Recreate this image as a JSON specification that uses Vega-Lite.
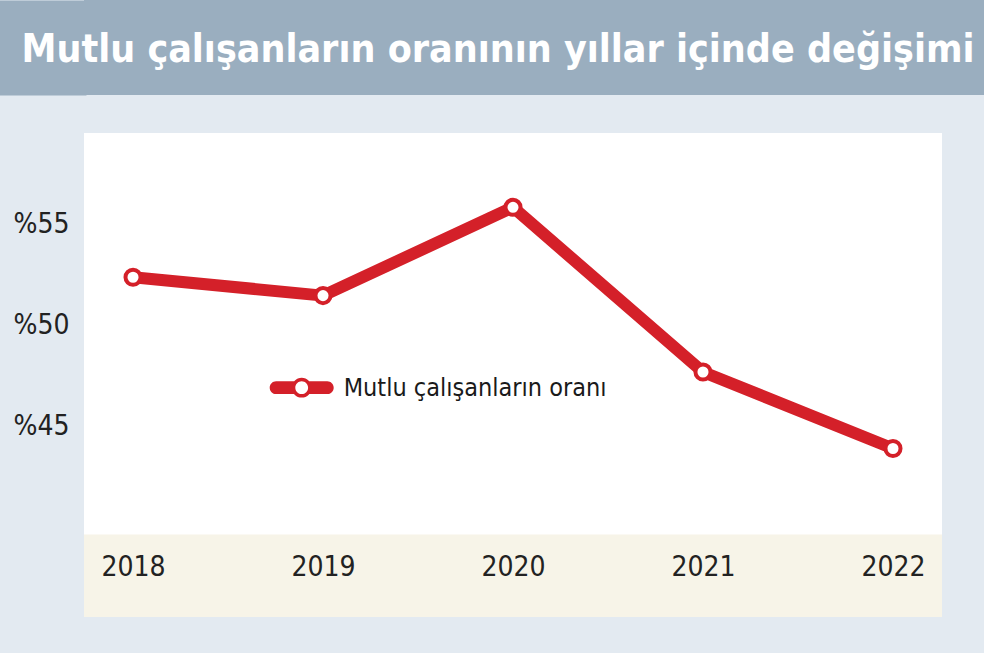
{
  "$schema": "https://vega.github.io/schema/vega-lite/v6.json",
  "background": "#e3eaf1",
  "padding": {"left": 0, "top": 0, "right": 0, "bottom": 36},
  "spacing": 38,
  "config": {"view": {"stroke": null}, "font": "DejaVu Sans Condensed"},
  "vconcat": [
    {
      "width": 900,
      "height": 95,
      "view": {"fill": "#9aaebf", "stroke": null},
      "data": {"values": [{"title": "Mutlu çalışanların oranının yıllar içinde değişimi", "pos": 0.5}]},
      "mark": {"type": "text", "font": "DejaVu Sans Condensed", "fontWeight": "bold", "fontSize": 39, "color": "#ffffff", "align": "center", "baseline": "alphabetic", "dy": 14.5, "dx": -36},
      "encoding": {
        "text": {"field": "title"},
        "y": {"field": "pos", "type": "quantitative", "scale": {"domain": [0, 1]},
          "axis": {"title": null, "labels": false, "ticks": false, "grid": false, "domain": true, "domainColor": "#9aaebf", "domainWidth": 88, "domainCap": "butt", "offset": 42, "minExtent": 42, "maxExtent": 42}}
      }
    },
    {
      "width": 858,
      "height": 484,
      "view": {"fill": "#ffffff", "stroke": null},
      "data": {"values": [
        {"year": "2018", "value": 52.38, "series": "Mutlu çalışanların oranı"},
        {"year": "2019", "value": 51.47, "series": "Mutlu çalışanların oranı"},
        {"year": "2020", "value": 55.84, "series": "Mutlu çalışanların oranı"},
        {"year": "2021", "value": 47.69, "series": "Mutlu çalışanların oranı"},
        {"year": "2022", "value": 43.9, "series": "Mutlu çalışanların oranı"}
      ]},
      "layer": [
        {
          "data": {"values": [{"band": "axis"}]},
          "mark": {"type": "rect", "color": "#f7f4e8"},
          "encoding": {"y": {"datum": 35.56, "type": "quantitative"}, "y2": {"datum": 39.65}}
        },
        {
          "mark": {"type": "line", "strokeWidth": 12, "strokeJoin": "round", "strokeCap": "round"},
          "encoding": {
            "x": {"field": "year", "type": "ordinal", "scale": {"type": "point", "padding": 0.258},
              "axis": {"orient": "bottom", "title": null, "domain": false, "ticks": false, "tickSize": 0, "labelPadding": 0, "offset": -42, "labelBaseline": "alphabetic", "labelAngle": 0, "labelFont": "DejaVu Sans Condensed", "labelFontSize": 28, "labelColor": "#222222", "grid": false, "zindex": 1}},
            "y": {"field": "value", "type": "quantitative", "scale": {"domain": [35.56, 59.52], "nice": false, "zero": false},
              "axis": {"title": null, "values": [45, 50, 55], "labelExpr": "'%' + datum.value", "domain": false, "ticks": false, "grid": false, "labelPadding": 15, "labelFont": "DejaVu Sans Condensed", "labelFontSize": 28, "labelColor": "#222222", "minExtent": 84, "maxExtent": 84}},
            "color": {"field": "series", "type": "nominal", "scale": {"range": ["#d42029"]},
              "legend": {"orient": "none", "legendX": 185.7, "legendY": 355.7, "title": null, "padding": 0,
                "symbolType": "M-0.22,-0.2L-0.8,-0.2A0.2,0.2 0 0 0 -0.8,0.2L-0.22,0.2Z M0.22,0.2L0.8,0.2A0.2,0.2 0 0 0 0.8,-0.2L0.22,-0.2Z M0.31,0A0.31,0.31 0 1 0 -0.31,0A0.31,0.31 0 1 0 0.31,0Z M0.2,0A0.2,0.2 0 1 1 -0.2,0A0.2,0.2 0 1 1 0.2,0Z",
                "symbolSize": 4096, "symbolStrokeWidth": 0, "symbolFillColor": "#d42029",
                "labelFont": "DejaVu Sans Condensed", "labelFontSize": 25, "labelColor": "#1a1a1a", "labelOffset": 10, "labelLimit": 400,
                "encode": {"symbols": {"update": {"fill": {"value": "#d42029"}, "stroke": {"value": "transparent"}, "strokeWidth": {"value": 0}}}}}}
          }
        },
        {
          "mark": {"type": "point", "shape": "circle", "filled": true, "fill": "#ffffff", "stroke": "#d42029", "strokeWidth": 4, "size": 227, "opacity": 1},
          "encoding": {
            "x": {"field": "year", "type": "ordinal"},
            "y": {"field": "value", "type": "quantitative"}
          }
        }
      ]
    }
  ]
}
